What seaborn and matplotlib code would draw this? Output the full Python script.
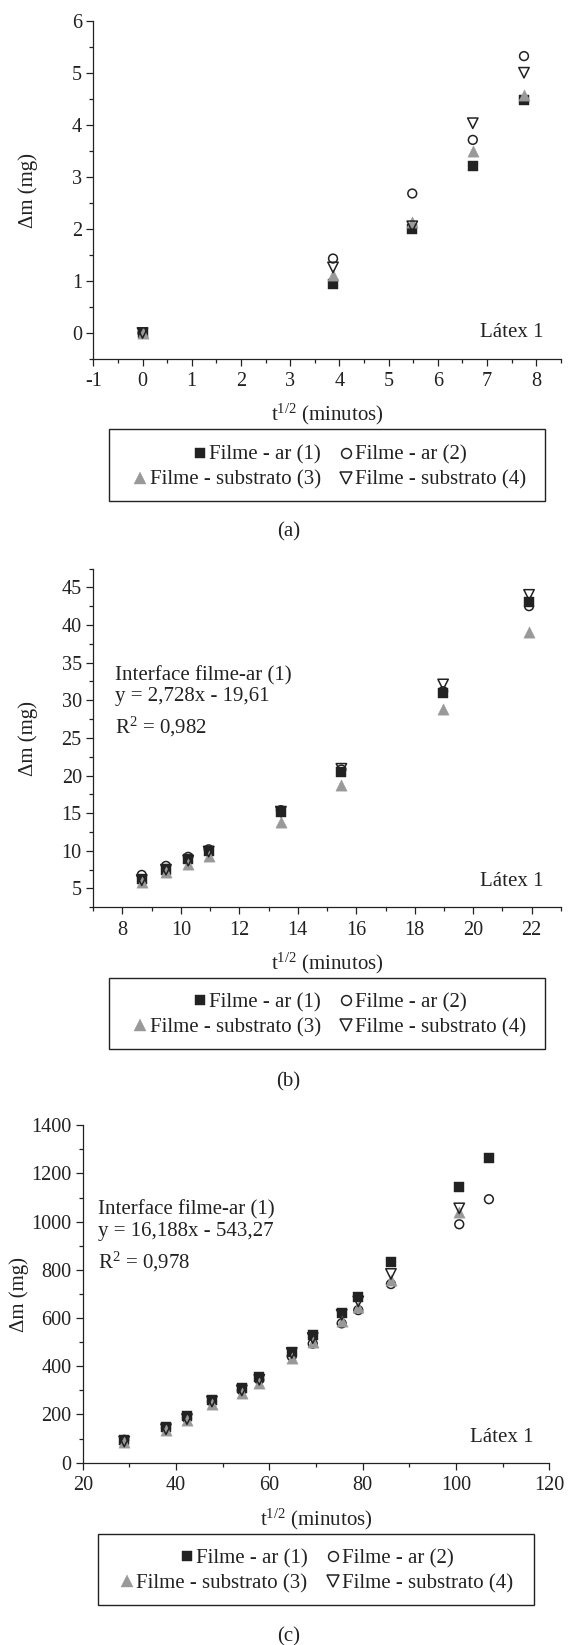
import numpy as np
import pandas as pd
import matplotlib
matplotlib.use("Agg")
import matplotlib.pyplot as plt
import seaborn as sns
from matplotlib.lines import Line2D
from matplotlib.patches import Rectangle
from matplotlib.ticker import MultipleLocator

# ---------------- data ----------------
labels = ["Filme - ar (1)", "Filme - ar (2)", "Filme - substrato (3)", "Filme - substrato (4)"]

a_x = [0.0, 3.87, 5.48, 6.71, 7.75]
a_s1 = [0.0, 0.94, 2.00, 3.20, 4.48]
a_s2 = [0.0, 1.43, 2.68, 3.71, 5.32]
a_s3 = [0.0, 1.11, 2.14, 3.50, 4.57]
a_s4 = [0.0, 1.26, 2.05, 4.03, 5.00]

b_x = [8.66, 9.49, 10.25, 10.95, 13.42, 15.49, 18.97, 21.91]
b_s1 = [6.2, 7.5, 8.9, 10.0, 15.1, 20.5, 31.0, 43.0]
b_s2 = [6.8, 8.0, 9.2, 10.2, 15.4, 20.8, 31.2, 42.5]
b_s3 = [5.9, 7.2, 8.3, 9.3, 13.8, 18.7, 28.8, 39.1]
b_s4 = [6.1, 7.5, 8.7, 9.9, 15.2, 20.9, 32.1, 44.0]

c_x = [28.9, 37.85, 42.35, 47.7, 54.1, 57.85, 64.8, 69.3, 75.5, 79.06, 86.06, 100.7, 107.06]
c_s1 = [95, 150, 192, 261, 310, 355, 461, 531, 622, 687, 831, 1142, 1263]
c_s2 = [95, 144, 185, 254, 300, 344, 441, 494, 578, 633, 741, 989, 1093]
c_x34 = [28.9, 37.85, 42.35, 47.7, 54.1, 57.85, 64.8, 69.3, 75.5, 79.06, 86.06, 100.7]
c_s3 = [86, 137, 176, 245, 289, 330, 434, 499, 586, 646, 758, 1041]
c_s4 = [88, 139, 181, 254, 300, 344, 455, 517, 614, 669, 783, 1055]

fit_b = ["Interface filme-ar (1)", "y = 2,728x - 19,61", r"R$^{\mathregular{2}}$ = 0,982"]
fit_c = ["Interface filme-ar (1)", "y = 16,188x - 543,27", r"R$^{\mathregular{2}}$ = 0,978"]

# ---------------- style ----------------
sns.set_style("ticks")
plt.rcParams["font.family"] = ["Liberation Serif", "DejaVu Serif"]
plt.rcParams["mathtext.fontset"] = "custom"
plt.rcParams["mathtext.rm"] = "Liberation Serif"
plt.rcParams["mathtext.it"] = "Liberation Serif:italic"
plt.rcParams["mathtext.bf"] = "Liberation Serif:bold"
plt.rcParams["axes.unicode_minus"] = False

INK = "#222222"
GRAY = "#999999"
FS = 15
TFS = 14.6

styles = [
    dict(marker="s", s=44, color=INK, edgecolor=INK, linewidth=0.3),
    dict(marker="o", s=40, facecolor="none", edgecolor=INK, linewidth=1.1),
    dict(marker="^", s=66, color=GRAY, edgecolor=GRAY, linewidth=0.3),
    dict(marker="v", s=56, facecolor="none", edgecolor=INK, linewidth=1.1),
]

W, H = 568, 1645
fig = plt.figure(figsize=(W / 100, H / 100), dpi=100)
fig.patch.set_facecolor("white")


def fx(px):
    return px / W


def fy(py):
    return 1 - py / H


def make_ax(left, right, top, bottom):
    return fig.add_axes([fx(left), fy(bottom), fx(right) - fx(left), fy(top) - fy(bottom)])


def style_ax(ax, xlim, ylim, xmaj, xmin, ymaj, ymin):
    ax.set_xlim(*xlim)
    ax.set_ylim(*ylim)
    ax.xaxis.set_major_locator(MultipleLocator(xmaj))
    ax.xaxis.set_minor_locator(MultipleLocator(xmin))
    ax.yaxis.set_major_locator(MultipleLocator(ymaj))
    ax.yaxis.set_minor_locator(MultipleLocator(ymin))
    sns.despine(ax=ax)
    for sp in ("left", "bottom"):
        ax.spines[sp].set_linewidth(0.9)
        ax.spines[sp].set_color(INK)
    ax.tick_params(which="major", direction="out", length=5.2, width=0.9, color=INK,
                   labelsize=TFS, labelcolor=INK)
    ax.tick_params(axis="x", which="major", pad=4.5)
    ax.tick_params(axis="y", which="major", pad=3)
    ax.tick_params(which="minor", direction="out", length=2.9, width=0.9, color=INK)


def draw_series(ax, xs_list, ys_list):
    for xs, ys, st in zip(xs_list, ys_list, styles):
        df = pd.DataFrame({"x": xs, "y": ys})
        sns.scatterplot(data=df, x="x", y="y", ax=ax, legend=False, zorder=3, **st)


def labels_ax(ax, bottom_px, height_px, left_px, width_px, xl_base_px, yl_cx_px, yl_cy_px):
    ax.set_xlabel(r"t$^{\mathregular{1/2}}$ (minutos)", fontsize=FS, color=INK, va="baseline")
    ax.xaxis.set_label_coords(0.5, -(xl_base_px - bottom_px) / height_px)
    ax.set_ylabel("Δm (mg)", fontsize=FS, color=INK, va="center", ha="center")
    ax.yaxis.set_label_coords((yl_cx_px - left_px) / width_px, (bottom_px - yl_cy_px) / height_px)


def handles():
    hs = []
    for st in styles:
        ms = np.sqrt(st["s"]) * 1.12
        fc = st.get("color", "none") if st.get("facecolor") is None else st["facecolor"]
        hs.append(Line2D([], [], linestyle="none", marker=st["marker"], markersize=ms,
                         markerfacecolor=fc, markeredgecolor=st["edgecolor"],
                         markeredgewidth=st["linewidth"]))
    return hs


def legend_block(cx, row1_y, row2_y, box):
    hs = handles()
    for idx, ry in ((0, row1_y), (2, row2_y)):
        fig.legend(hs[idx:idx + 2], labels[idx:idx + 2], ncol=2, loc="center",
                   bbox_to_anchor=(fx(cx), fy(ry)), bbox_transform=fig.transFigure,
                   frameon=False, handlelength=0.6, handletextpad=0.15, columnspacing=0.9,
                   borderpad=0, borderaxespad=0, fontsize=FS, labelcolor=INK)
    x0, y0, x1, y1 = box
    fig.add_artist(Rectangle((fx(x0), fy(y1)), fx(x1) - fx(x0), fy(y0) - fy(y1),
                             transform=fig.transFigure, fill=False, edgecolor=INK, linewidth=1.0))


def ftext(px, py, s, ha="left", va="center", **kw):
    fig.text(fx(px), fy(py), s, ha=ha, va=va, fontsize=FS, color=INK, **kw)


# ---------------- panel (a) ----------------
La, Ra, Ta, Ba = 93.3, 560.9, 20.7, 359.0
ax_a = make_ax(La, Ra, Ta, Ba)
draw_series(ax_a, [a_x, a_x, a_x, a_x], [a_s1, a_s2, a_s3, a_s4])
style_ax(ax_a, (-1, 8.5), (-0.5, 6), 1, 0.5, 1, 0.5)
labels_ax(ax_a, Ba, Ba - Ta, La, Ra - La, 420.7, 28, 190)
ftext(543.9, 332.3, "Látex 1", ha="right")
legend_block(330, 455, 480, (109, 429, 545, 500.7))
ftext(288.6, 532.3, "(a)", ha="center")

# ---------------- panel (b) ----------------
Lb, Rb, Tb, Bb = 93.2, 560.9, 568.5, 907.3
ax_b = make_ax(Lb, Rb, Tb, Bb)
draw_series(ax_b, [b_x, b_x, b_x, b_x], [b_s1, b_s2, b_s3, b_s4])
style_ax(ax_b, (7, 23), (2.5, 47.5), 2, 1, 5, 2.5)
labels_ax(ax_b, Bb, Bb - Tb, Lb, Rb - Lb, 969.0, 28, 738)
ftext(543.9, 881.7, "Látex 1", ha="right")
for s, yy in zip(fit_b, (676, 696.7, 726.7)):
    ftext(114.6, yy, s)
legend_block(330, 1002.7, 1027.7, (109, 978.3, 545, 1049))
ftext(288.6, 1081.7, "(b)", ha="center")

# ---------------- panel (c) ----------------
Lc, Rc, Tc, Bc = 82.7, 549.3, 1125.2, 1462.7
ax_c = make_ax(Lc, Rc, Tc, Bc)
draw_series(ax_c, [c_x, c_x, c_x34, c_x34], [c_s1, c_s2, c_s3, c_s4])
style_ax(ax_c, (20, 120), (0, 1400), 20, 10, 200, 100)
labels_ax(ax_c, Bc, Bc - Tc, Lc, Rc - Lc, 1525.5, 19, 1294)
ftext(533.7, 1437.3, "Látex 1", ha="right")
for s, yy in zip(fit_c, (1210, 1231.7, 1261.7)):
    ftext(97.9, yy, s)
legend_block(317, 1558.3, 1584, (98.3, 1534, 533.7, 1605))
ftext(288.6, 1636.7, "(c)", ha="center")

fig.savefig("out.png", dpi=100, facecolor="white")
